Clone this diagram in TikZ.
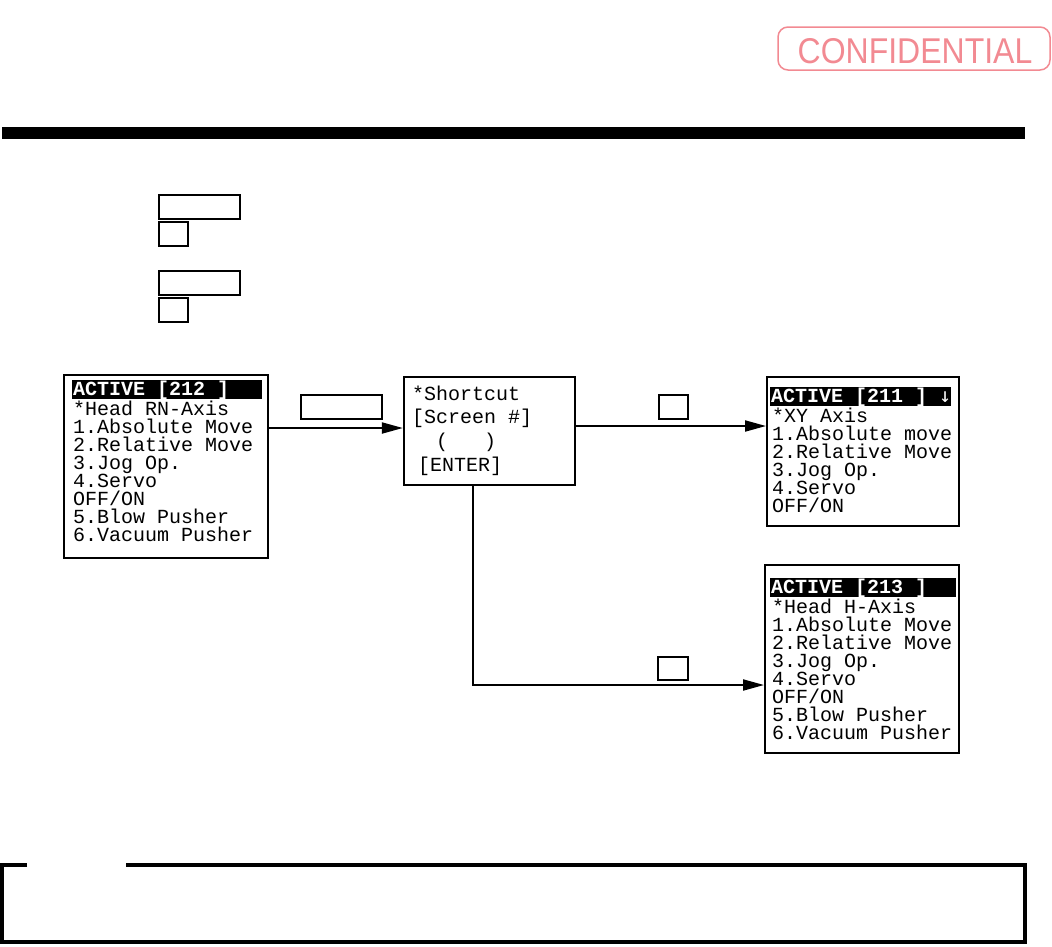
\documentclass[tikz,border=0pt]{standalone}
\usepackage{fontspec}
\usetikzlibrary{arrows.meta}
\newfontfamily\scrmono{Liberation Mono}
\newfontfamily\arrmono{DejaVu Sans Mono}
\newfontfamily\stampfont{Liberation Sans}
\definecolor{stampred}{RGB}{242,138,146}
\begin{document}
\begin{tikzpicture}[x=1pt,y=-1pt,
  screen/.style={draw, line width=2pt, inner sep=0pt},
  hdr/.style={fill=black, inner sep=0pt, minimum height=19pt},
  keybox/.style={draw, line width=1.3pt, inner sep=0pt},
  scrtxt/.style={anchor=base west, inner sep=0pt, font=\scrmono\fontsize{20}{18}\selectfont},
  hdrtxt/.style={scrtxt, text=white, font=\scrmono\bfseries\fontsize{20}{18}\selectfont},
  conn/.style={line width=2pt, -{Triangle[length=21pt,width=11pt]}},
  plain/.style={line width=2pt}]
\useasboundingbox (0,0) rectangle (1052,946);
% stamp
\node[draw=stampred, line width=1.5pt, rounded corners=10pt, minimum width=272pt, minimum height=43pt, inner sep=0pt] (stamp) at (914,48.5) {};
\node[anchor=base, inner sep=0pt, text=stampred, font=\stampfont\fontsize{32}{32}\selectfont] (conf) at (915,63) {\scalebox{1}[1.12]{CONFIDENTIAL}};
% black bar
\fill (2,127) rectangle (1025,139);
% instruction key boxes
\node[keybox, minimum width=81pt, minimum height=24pt] (k4) at (199.5,207) {};
\node[keybox, minimum width=29pt, minimum height=24pt] (k5) at (173.5,234) {};
\node[keybox, minimum width=81pt, minimum height=24pt] (k6) at (199.5,283) {};
\node[keybox, minimum width=29pt, minimum height=24pt] (k7) at (173.5,310) {};
% screen A
\node[screen, minimum width=204pt, minimum height=183pt] (sA) at (166,466.5) {};
\node[hdr, minimum width=190pt] (hA) at (167,389.5) {};
\node[hdrtxt] (hAt) at (73,395.5) {ACTIVE [212 ]};
\foreach \t [count=\i from 0] in {{*Head RN-Axis},{1.Absolute Move},{2.Relative Move},{3.Jog Op.},{4.Servo},{OFF/ON},{5.Blow Pusher},{6.Vacuum Pusher}}
  \node[scrtxt] (a\i) at (73,{415+18*\i}) {\t};
% shortcut screen
\node[screen, line width=2.3pt, minimum width=171pt, minimum height=108pt] (sS) at (489.5,431) {};
\node[scrtxt] (s0) at (412,400) {*Shortcut};
\node[scrtxt] (s1) at (412,423) {[Screen \#]};
\node[scrtxt] (s2) at (436,447) {(\ \ \ )};
\node[scrtxt] (s3) at (418,471) {[ENTER]};
% screen B
\node[screen, minimum width=192pt, minimum height=149pt] (sB) at (863,451.5) {};
\node[hdr, minimum width=181pt] (hB) at (860.5,396.5) {};
\node[hdrtxt] (hBt) at (771,402.5) {ACTIVE [211 ] {\arrmono\mdseries ↓}};
\foreach \t [count=\i from 0] in {{*XY Axis},{1.Absolute move},{2.Relative Move},{3.Jog Op.},{4.Servo},{OFF/ON}}
  \node[scrtxt] (b\i) at (772,{422+18*\i}) {\t};
% screen C
\node[screen, minimum width=194pt, minimum height=188pt] (sC) at (862,659) {};
\node[hdr, minimum width=186pt] (hC) at (863,587.5) {};
\node[hdrtxt] (hCt) at (771,593.5) {ACTIVE [213 ]};
\foreach \t [count=\i from 0] in {{*Head H-Axis},{1.Absolute Move},{2.Relative Move},{3.Jog Op.},{4.Servo},{OFF/ON},{5.Blow Pusher},{6.Vacuum Pusher}}
  \node[scrtxt] (c\i) at (772,{613+18*\i}) {\t};
% connector key boxes
\node[keybox, minimum width=81pt, minimum height=24pt] (k1) at (341.5,407) {};
\node[keybox, minimum width=29pt, minimum height=24pt] (k2) at (673.5,407) {};
\node[keybox, minimum width=30pt, minimum height=23pt] (k3) at (673,668.5) {};
% connectors
\coordinate (y1) at (0,428);
\coordinate (y2) at (0,426);
\coordinate (x3) at (473,0);
\coordinate (y3) at (0,685);
\draw[conn] (sA.east |- y1) -- (sS.west |- y1);
\draw[conn] (sS.east |- y2) -- (sB.west |- y2);
\draw[conn] (x3 |- sS.south) -- (x3 |- y3) -- (sC.west |- y3);
% bottom note box
\draw[line width=3.5pt] (27,865) -- (2,865) -- (2,942) -- (1025,942) -- (1025,865) -- (126,865);
\end{tikzpicture}
\end{document}
